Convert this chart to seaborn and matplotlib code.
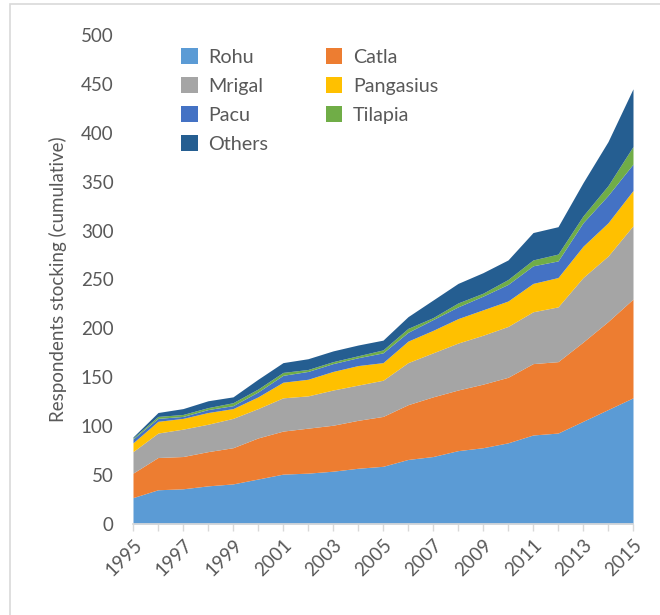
import numpy as np
import matplotlib
matplotlib.use("Agg")
import matplotlib.pyplot as plt
from matplotlib.patches import Rectangle, Patch
import seaborn as sns

# cumulative respondents stocking each species
years = list(range(1995, 2016))
rohu = [27, 35, 36, 39, 41, 46, 51, 52, 54, 57, 59, 66, 69, 75, 78, 83, 91, 93, 105, 117, 129]
catla = [25, 33, 33, 35, 37, 42, 44, 46, 47, 49, 51, 56, 61, 62, 65, 67, 73, 73, 81, 90, 101]
mrigal = [22, 25, 28, 28, 30, 30, 34, 33, 36, 36, 37, 43, 45, 48, 50, 52, 53, 56, 66, 67, 75]
pangasius = [9, 12, 11, 12, 10, 12, 16, 17, 19, 20, 18, 22, 23, 25, 26, 26, 29, 30, 32, 34, 36]
pacu = [4, 3, 2, 3, 3, 5, 7, 8, 8, 8, 10, 9, 11, 12, 14, 17, 18, 17, 24, 28, 27]
tilapia = [1, 2, 2, 2, 3, 3, 3, 2, 2, 2, 3, 4, 2, 4, 3, 5, 6, 7, 7, 10, 18]
others = [1, 4, 6, 7, 6, 10, 10, 11, 11, 11, 10, 12, 18, 20, 21, 20, 28, 28, 34, 45, 59]

names = ["Rohu", "Catla", "Mrigal", "Pangasius", "Pacu", "Tilapia", "Others"]
colors = sns.color_palette(["#5B9BD5", "#ED7D31", "#A5A5A5", "#FFC000",
                            "#4472C4", "#70AD47", "#255E91"])

sns.set_theme(style="white")
plt.rcParams['font.family'] = ['Lato', 'DejaVu Sans']
text_col = "#595959"

fig = plt.figure(figsize=(6.6, 6.15), dpi=100)
ax = fig.add_axes([133 / 660, 91 / 615, 500 / 660, 489 / 615])

ax.stackplot(years, rohu, catla, mrigal, pangasius, pacu, tilapia, others,
             colors=colors, labels=names, linewidth=0)

ax.set_xlim(1995, 2015)
ax.set_ylim(0, 500)
ax.set_yticks(range(0, 501, 50))
ax.set_xticks(years, minor=True)
ax.set_xticks(years[::2])
ax.set_xticklabels([str(y) for y in years[::2]], rotation=45, ha="right",
                   rotation_mode="anchor", fontsize=13.5, color=text_col)
ax.tick_params(axis="y", labelsize=13.5, labelcolor=text_col, length=0, pad=14)
ax.tick_params(axis="x", which="both", direction="out", length=5, width=1,
               color="#d9d9d9", bottom=True, pad=4)
ax.set_ylabel("Respondents stocking (cumulative)", fontsize=13.5, color=text_col, labelpad=10)

for side in ["top", "right", "left"]:
    ax.spines[side].set_visible(False)
ax.spines["bottom"].set_color("#d9d9d9")
ax.grid(False)

# legend reads row-wise in the reference (Rohu, Catla / Mrigal, Pangasius ...)
order = [0, 2, 4, 6, 1, 3, 5]
handles = [Patch(facecolor=colors[i], edgecolor="none") for i in order]
labels = [names[i] for i in order]
leg = ax.legend(handles, labels, ncol=2, loc="upper left",
                bbox_to_anchor=(0.06, 1.01), frameon=False, fontsize=14.2,
                handlelength=0.85, handleheight=0.85, handletextpad=0.55,
                columnspacing=2.9, labelspacing=0.58)
for t in leg.get_texts():
    t.set_color(text_col)

# chart area border
fig.patches.append(Rectangle((10 / 660, -0.05), 1.1, 1.05 - 4 / 615,
                             transform=fig.transFigure, fill=False,
                             edgecolor="#d9d9d9", linewidth=1.2))

fig.savefig("out.png", dpi=100)
